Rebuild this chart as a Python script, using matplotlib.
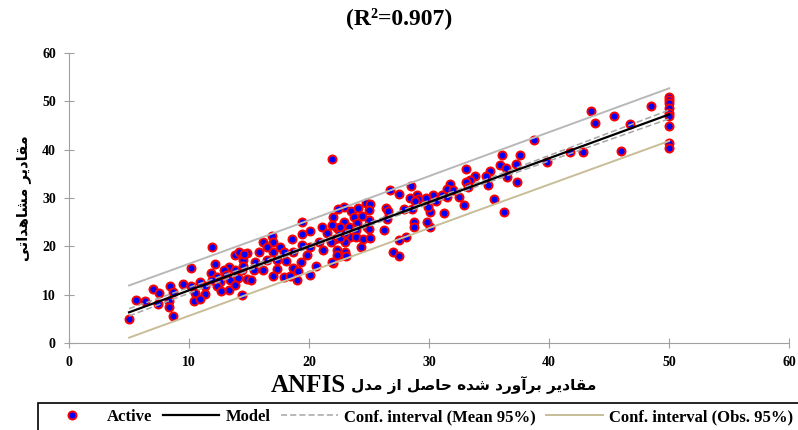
import matplotlib
matplotlib.use('Agg')
import matplotlib.pyplot as plt
from matplotlib.lines import Line2D
from matplotlib.patches import Rectangle

# ANFIS predicted values (x) and observed values (y)
pred = [50, 50, 50, 50, 50, 50, 50, 50, 50,
        48.5, 43.5, 43.8, 45.4, 46.7, 46.0, 38.7, 42.8, 41.7, 39.8, 36.1, 37.6,
        33.1, 35.9, 36.4, 37.2, 35.1, 34.7, 33.8, 36.5, 33.4, 33.1, 34.9, 37.3,
        31.7, 31.5, 32.0, 33.2, 30.3, 31.1, 30.6, 31.5, 32.5, 32.9, 35.4, 31.2,
        30.1, 36.2, 30.1,
        21.9, 28.5, 26.7, 27.5, 28.4, 29.0, 29.1, 29.7, 24.7, 25.1, 28.8, 29.9,
        27.9, 28.6, 26.4, 26.6, 26.5, 28.7, 28.7, 29.8, 26.2, 28.1, 27.5, 27.0,
        27.5, 22.9, 22.4, 23.5, 24.1, 25.0, 23.7, 24.4, 25.0, 22.0, 22.9, 24.0,
        24.8, 22.3, 23.3, 23.9, 25.0, 22.6, 23.4, 23.9, 24.5, 25.1, 22.2, 23.0,
        24.3, 22.3, 23.0, 22.6, 23.1, 22.0,
        19.4, 21.1, 21.9, 22.6, 20.1, 19.4, 21.5, 16.9, 18.6, 16.2, 17.0, 20.8,
        21.8, 22.6, 23.0, 16.5, 17.6, 19.4, 20.1, 21.2, 14.8, 15.8, 17.0, 17.9,
        18.7, 19.8, 22.3, 14.5, 15.5, 16.5, 17.3, 18.1, 19.3, 20.6, 21.9, 14.4,
        15.4, 16.2, 17.3, 18.7, 19.1, 17.0, 17.9, 18.4, 19.0, 20.1, 14.8, 15.2,
        14.4,
        11.9, 10.2, 13.8, 14.2, 14.6, 12.2, 13.3, 12.9, 13.8, 14.5, 11.8, 12.3,
        13.1, 10.9, 11.9, 12.6, 13.4, 14.1, 9.5, 10.2, 11.3, 12.3, 13.3, 13.8,
        7.0, 8.4, 7.5, 8.7, 10.5, 11.3, 12.7, 5.6, 6.3, 7.4, 8.3, 8.3, 10.4,
        10.9, 8.7, 5.0]
obs = [51.0, 50.3, 49.6, 48.6, 47.6, 46.9, 44.8, 41.3, 40.3,
       49.1, 48.0, 45.6, 46.9, 45.3, 39.8, 42.0, 39.5, 39.5, 37.5, 38.8, 38.8,
       36.1, 36.8, 36.3, 37.0, 35.5, 34.6, 34.6, 34.4, 33.7, 33.3, 32.7, 33.3,
       32.8, 31.8, 31.7, 32.2, 30.6, 30.6, 29.3, 30.2, 30.2, 28.6, 29.8, 26.8,
       27.2, 27.1, 24.1,
       38.1, 32.5, 31.7, 30.8, 30.0, 30.6, 29.8, 30.0, 29.0, 28.7, 29.3, 28.2,
       27.7, 27.7, 27.9, 27.4, 25.7, 25.1, 24.1, 25.1, 23.3, 22.0, 21.3, 18.8,
       17.9, 28.2, 27.7, 27.3, 28.0, 27.5, 26.1, 26.3, 25.5, 26.0, 25.1, 24.8,
       24.0, 23.7, 24.0, 23.3, 23.5, 22.7, 22.0, 22.0, 21.5, 21.8, 21.5, 21.0,
       19.8, 19.3, 18.9, 18.0, 18.0, 16.6,
       25.0, 24.1, 24.4, 24.1, 23.2, 22.6, 22.7, 22.2, 21.5, 21.0, 20.8, 21.0,
       21.0, 21.7, 22.7, 19.9, 19.9, 20.3, 19.9, 19.3, 18.6, 18.9, 18.9, 18.9,
       18.8, 18.2, 18.2, 17.2, 16.8, 17.2, 17.2, 17.0, 16.8, 15.9, 16.8, 15.1,
       15.1, 15.1, 15.3, 15.5, 14.8, 13.9, 13.6, 13.9, 13.0, 14.1, 13.2, 13.0,
       9.9,
       19.9, 15.6, 18.2, 18.8, 18.4, 16.4, 15.8, 15.1, 15.1, 16.0, 14.4, 13.7,
       14.1, 12.7, 13.0, 12.7, 13.0, 13.4, 12.2, 11.7, 11.7, 11.7, 11.0, 11.9,
       11.2, 11.7, 10.3, 10.6, 10.3, 10.1, 10.8, 9.0, 8.6, 8.1, 8.6, 7.4, 8.6,
       9.2, 5.6, 5.0]

# regression line and intervals (read at a few x positions)
line_x = [5, 20, 35, 50]
model_y = [6.35, 20.0, 33.7, 47.3]
mean_lo = [5.6, 19.7, 33.3, 46.4]
mean_hi = [7.1, 20.3, 34.1, 48.2]
obs_lo = [1.1, 14.7, 28.3, 41.8]
obs_hi = [11.9, 25.4, 39.1, 52.7]

title = '(R²=0.907)'
xlabel_en = 'ANFIS'
xlabel_fa = 'مقادیر برآورد شده حاصل از مدل'
ylabel_fa = 'مقادیر مشاهداتی'
legend_labels = ['Active', 'Model', 'Conf. interval (Mean 95%)', 'Conf. interval (Obs. 95%)']

# minimal Persian shaping (matplotlib has no complex text layout)
FORMS = {
    'ا': ('\uFE8D', '\uFE8E', None, None), 'آ': ('\uFE81', '\uFE82', None, None),
    'ب': ('\uFE8F', '\uFE90', '\uFE91', '\uFE92'), 'ت': ('\uFE95', '\uFE96', '\uFE97', '\uFE98'),
    'ح': ('\uFEA1', '\uFEA2', '\uFEA3', '\uFEA4'), 'د': ('\uFEA9', '\uFEAA', None, None),
    'ر': ('\uFEAD', '\uFEAE', None, None), 'ز': ('\uFEAF', '\uFEB0', None, None),
    'ش': ('\uFEB5', '\uFEB6', '\uFEB7', '\uFEB8'), 'ص': ('\uFEB9', '\uFEBA', '\uFEBB', '\uFEBC'),
    'ق': ('\uFED5', '\uFED6', '\uFED7', '\uFED8'), 'ل': ('\uFEDD', '\uFEDE', '\uFEDF', '\uFEE0'),
    'م': ('\uFEE1', '\uFEE2', '\uFEE3', '\uFEE4'), 'ه': ('\uFEE9', '\uFEEA', '\uFEEB', '\uFEEC'),
    'و': ('\uFEED', '\uFEEE', None, None), 'ی': ('\uFBFC', '\uFBFD', '\uFBFE', '\uFBFF'),
}


def shape(s):
    out = []
    for i, c in enumerate(s):
        if c not in FORMS:
            out.append(c)
            continue
        p = s[i - 1] if i > 0 else ' '
        n = s[i + 1] if i < len(s) - 1 else ' '
        jp = p in FORMS and FORMS[p][2] is not None
        jn = n in FORMS and FORMS[c][2] is not None
        iso, fin, ini, med = FORMS[c]
        if jp and jn:
            out.append(med)
        elif jp:
            out.append(fin)
        elif jn:
            out.append(ini)
        else:
            out.append(iso)
    return ''.join(out)[::-1]


plt.rcParams['font.family'] = ['Liberation Serif', 'DejaVu Sans']
plt.rcParams['font.weight'] = 'bold'

fig = plt.figure(figsize=(7.98, 4.30), dpi=100)
ax = fig.add_axes([0.0865, 0.2023, 0.9025, 0.6744])

ax.plot(pred, obs, 'o', ms=5.8, mfc='#0000ff', mec='#ff0000', mew=1.4, zorder=2)
ax.plot(line_x, obs_hi, color='#b8b8b8', lw=1.4, zorder=3)
ax.plot(line_x, obs_lo, color='#c8bd98', lw=1.4, zorder=3)
ax.plot(line_x, mean_lo, color='#a6a6a6', lw=1.1, ls=(0, (4, 2)), zorder=3)
ax.plot(line_x, mean_hi, color='#a6a6a6', lw=1.1, ls=(0, (4, 2)), zorder=3)
ax.plot(line_x, model_y, color='black', lw=1.6, zorder=4)

ax.set_xlim(0, 60)
ax.set_ylim(0, 60)
ax.set_xticks(range(0, 61, 10))
ax.set_yticks(range(0, 61, 10))
for s in ['top', 'right']:
    ax.spines[s].set_visible(False)
for s in ['left', 'bottom']:
    ax.spines[s].set_color('#a0a0a0')
ax.tick_params(direction='inout', length=7, color='#a0a0a0', labelsize=10, pad=6)

fig.text(0.5, 0.957, title, ha='center', va='center', fontsize=17, fontweight='bold')
# x label: Latin part left, Persian part right (RTL reading order)
fig.text(346 / 798, 0.104, xlabel_en, ha='right', va='center', fontsize=18, fontweight='bold')
fig.text(351 / 798, 0.104, shape(xlabel_fa), ha='left', va='center', fontsize=11,
         fontweight='bold', family='DejaVu Sans')
fig.text(24 / 798, 0.54, shape(ylabel_fa), ha='center', va='center', rotation=90,
         fontsize=10.5, fontweight='bold', family='DejaVu Sans')

handles = [
    Line2D([], [], ls='none', marker='o', ms=5.8, mfc='#0000ff', mec='#ff0000', mew=1.4),
    Line2D([], [], color='black', lw=1.6),
    Line2D([], [], color='#a6a6a6', lw=1.1, ls=(0, (4, 2))),
    Line2D([], [], color='#c8bd98', lw=1.4),
]
fig.legend(handles, legend_labels, loc='center left', bbox_to_anchor=(0.055, 0.03),
           ncol=4, frameon=False, fontsize=12, handlelength=3.4, handletextpad=0.4,
           columnspacing=0.6, borderpad=0, borderaxespad=0, numpoints=1)
fig.patches.append(Rectangle((38 / 798, -0.1), 1.0, 0.1 + 27 / 430, transform=fig.transFigure,
                             fill=False, ec='black', lw=1.2, clip_on=False))

fig.savefig('out.png', dpi=100)
